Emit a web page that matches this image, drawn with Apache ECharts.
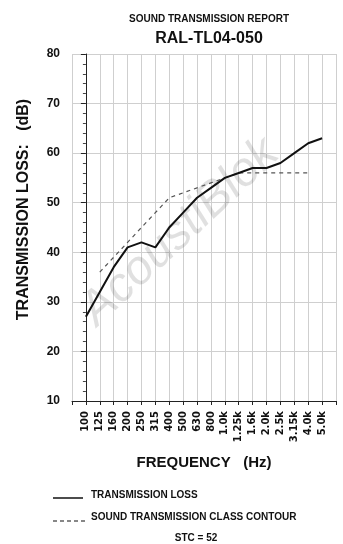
<!DOCTYPE html>
<html>
<head>
<meta charset="utf-8">
<script src="https://cdn.jsdelivr.net/npm/echarts@6/dist/echarts.min.js"></script>
<style>
  html, body { margin: 0; padding: 0; background: #fff; }
  #chart { width: 343px; height: 544px; }
</style>
</head>
<body>
<div id="chart"></div>
<script>
// 1/3 octave bands
const freqLabels = ['100', '125', '160', '200', '250', '315', '400', '500', '630', '800',
  '1.0k', '1.25k', '1.6k', '2.0k', '2.5k', '3.15k', '4.0k', '5.0k'];

// measured transmission loss (dB)
const transmissionLoss = [27, 32, 37, 41, 42, 41, 45, 48, 51, 53, 55, 56, 57, 57, 58, 60, 62, 63];

// STC 52 contour, 125 Hz .. 4.0k
const contourLabels = ['125', '160', '200', '250', '315', '400', '500', '630', '800',
  '1.0k', '1.25k', '1.6k', '2.0k', '2.5k', '3.15k', '4.0k'];
const contourValues = [36, 39, 42, 45, 48, 51, 52, 53, 54, 55, 56, 56, 56, 56, 56, 56];

const yTicks = [10, 20, 30, 40, 50, 60, 70, 80];

const chart = echarts.init(document.getElementById('chart'));

const font = 'Liberation Sans, Arial, sans-serif';

const option = {
  backgroundColor: '#fff',
  animation: false,
  textStyle: { fontFamily: font },
  title: [
    {
      text: 'SOUND TRANSMISSION REPORT',
      left: 204, top: 9, textAlign: 'center',
      textStyle: { fontSize: 10, fontWeight: 'bold', color: '#111', fontFamily: font }
    },
    {
      text: 'RAL-TL04-050',
      left: 204, top: 26, textAlign: 'center',
      textStyle: { fontSize: 16, fontWeight: 600, color: '#111', fontFamily: font }
    }
  ],
  grid: { left: 72, right: 7, top: 54, bottom: 143, containLabel: false },
  xAxis: {
    type: 'value',
    min: -1,
    max: 18,
    interval: 1,
    name: 'FREQUENCY   (Hz)',
    nameLocation: 'middle',
    nameGap: 54,
    nameTextStyle: { fontSize: 15, fontWeight: 'bold', color: '#111', fontFamily: font },
    axisLine: { show: true, lineStyle: { color: '#222', width: 1 } },
    axisTick: { show: true, inside: false, length: 4, lineStyle: { color: '#222' } },
    splitLine: { show: true, lineStyle: { color: '#cfcfcf', width: 1 } },
    axisLabel: {
      rotate: 90,
      margin: 10,
      fontSize: 10,
      fontWeight: 'bold',
      color: '#111',
      fontFamily: 'DejaVu Sans',
      formatter: v => freqLabels[v] || ''
    }
  },
  yAxis: {
    type: 'value',
    min: yTicks[0],
    max: yTicks[yTicks.length - 1],
    interval: 10,
    name: 'TRANSMISSION LOSS:   (dB)',
    nameLocation: 'middle',
    nameGap: 40,
    nameTextStyle: {
      fontSize: 16, fontWeight: 'bold', color: '#111', fontFamily: font,
      padding: [0, 0, 0, 36]
    },
    axisLine: { show: true, lineStyle: { color: '#222', width: 1 } },
    axisTick: { show: true, inside: false, length: 5, lineStyle: { color: '#222' } },
    minorTick: { show: true, splitNumber: 5, length: 3, lineStyle: { color: '#444' } },
    splitLine: { show: true, lineStyle: { color: '#cfcfcf', width: 1 } },
    axisLabel: {
      margin: 12,
      fontSize: 12,
      fontWeight: 'bold',
      color: '#111',
      fontFamily: font
    }
  },
  graphic: [
    // watermark
    {
      type: 'text',
      x: 180, y: 232,
      rotation: 0.75,
      z: 1,
      silent: true,
      style: {
        text: 'AcoustiBlok',
        font: 'italic 48px ' + font,
        fill: 'rgba(0,0,0,0.12)',
        align: 'center',
        verticalAlign: 'middle'
      }
    },
    // legend
    { type: 'line', shape: { x1: 53, y1: 498, x2: 83, y2: 498 }, style: { stroke: '#111', lineWidth: 1.5 } },
    { type: 'text', x: 91, y: 495, style: { text: 'TRANSMISSION LOSS', font: 'bold 10px ' + font, fill: '#111', verticalAlign: 'middle' } },
    { type: 'line', shape: { x1: 53, y1: 521, x2: 87, y2: 521 }, style: { stroke: '#111', lineWidth: 1.2, lineDash: [4, 3] } },
    { type: 'text', x: 91, y: 517, style: { text: 'SOUND TRANSMISSION CLASS CONTOUR', font: 'bold 10px ' + font, fill: '#111', verticalAlign: 'middle' } },
    { type: 'text', x: 196, y: 538, style: { text: 'STC = 52', font: 'bold 10px ' + font, fill: '#111', align: 'center', verticalAlign: 'middle' } }
  ],
  series: [
    {
      name: 'STC Contour',
      type: 'line',
      data: contourLabels.map((f, i) => [freqLabels.indexOf(f), contourValues[i]]),
      symbol: 'none',
      z: 3,
      lineStyle: { color: '#555', width: 1.2, type: [4, 4] }
    },
    {
      name: 'Transmission Loss',
      type: 'line',
      data: freqLabels.map((f, i) => [i, transmissionLoss[i]]),
      symbol: 'none',
      z: 4,
      lineStyle: { color: '#111', width: 2 }
    }
  ]
};

chart.setOption(option);
</script>
</body>
</html>
